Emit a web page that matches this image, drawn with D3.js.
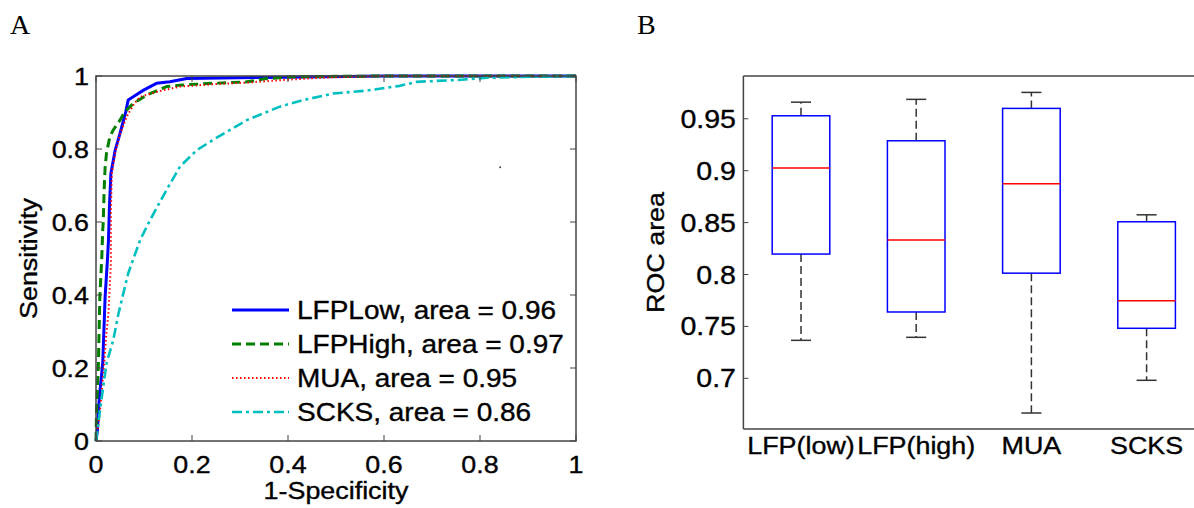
<!DOCTYPE html>
<html><head><meta charset="utf-8">
<script src="https://cdn.jsdelivr.net/npm/d3@7"></script>
<style>
html,body{margin:0;padding:0;background:#fff;}
text{font-family:"Liberation Sans",Arial,sans-serif;fill:#000;}
</style></head>
<body><svg id="c" width="1194" height="508"></svg>
<script>
// ---------- Panel A data (ROC curves) ----------
const rocTicks = [0, 0.2, 0.4, 0.6, 0.8, 1];
const rocTickLabels = ["0", "0.2", "0.4", "0.6", "0.8", "1"];
const seriesNames = ["LFPLow, area = 0.96", "LFPHigh, area = 0.97", "MUA, area = 0.95", "SCKS, area = 0.86"];

const lfpLowFpr = [0, 0.003, 0.007, 0.014, 0.019, 0.024, 0.026, 0.028, 0.031, 0.040, 0.050, 0.062, 0.067, 0.080, 0.100, 0.126, 0.154, 0.189, 0.35, 0.60, 1.0];
const lfpLowTpr = [0, 0.030, 0.121, 0.213, 0.395, 0.500, 0.551, 0.642, 0.733, 0.797, 0.843, 0.902, 0.934, 0.945, 0.962, 0.980, 0.984, 0.993, 0.996, 1.0, 1.0];

const lfpHighFpr = [0, 0.001, 0.005, 0.008, 0.012, 0.014, 0.015, 0.017, 0.019, 0.022, 0.029, 0.036, 0.050, 0.060, 0.078, 0.106, 0.147, 0.175, 0.244, 0.314, 0.356, 0.41, 0.60, 1.0];
const lfpHighTpr = [0, 0.077, 0.213, 0.395, 0.500, 0.578, 0.596, 0.688, 0.750, 0.790, 0.834, 0.852, 0.879, 0.902, 0.925, 0.948, 0.971, 0.975, 0.980, 0.984, 0.993, 0.998, 1.0, 1.0];

const muaFpr = [0, 0.008, 0.017, 0.022, 0.026, 0.031, 0.031, 0.033, 0.040, 0.050, 0.064, 0.080, 0.092, 0.130, 0.175, 0.250, 0.314, 0.400, 0.480, 0.60, 1.0];
const muaTpr = [0, 0.076, 0.213, 0.300, 0.350, 0.487, 0.624, 0.733, 0.790, 0.840, 0.889, 0.925, 0.943, 0.958, 0.971, 0.978, 0.982, 0.990, 0.996, 1.0, 1.0];

const scksFpr = [0, 0.005, 0.012, 0.022, 0.036, 0.047, 0.067, 0.092, 0.1125, 0.147, 0.175, 0.210, 0.244, 0.314, 0.383, 0.432, 0.494, 0.564, 0.633, 0.668, 0.751, 0.814, 0.910, 1.0];
const scksTpr = [0, 0.050, 0.120, 0.213, 0.277, 0.350, 0.459, 0.551, 0.605, 0.688, 0.752, 0.797, 0.825, 0.879, 0.916, 0.934, 0.952, 0.960, 0.973, 0.984, 0.989, 0.995, 0.998, 1.0];

const strayDot = [0.842, 0.75];

// ---------- Panel B data (box plot of ROC areas) ----------
const boxCategories = ["LFP(low)", "LFP(high)", "MUA", "SCKS"];
const boxLowerWhisker = [0.7366, 0.7395, 0.6666, 0.6981];
const boxQ1 = [0.8197, 0.7639, 0.8013, 0.7482];
const boxMedian = [0.9025, 0.8332, 0.8874, 0.7747];
const boxQ3 = [0.9529, 0.9288, 0.9600, 0.8508];
const boxUpperWhisker = [0.9660, 0.9687, 0.9754, 0.8575];
const boxTicks = [0.7, 0.75, 0.8, 0.85, 0.9, 0.95];
const boxTickLabels = ["0.7", "0.75", "0.8", "0.85", "0.9", "0.95"];

const svg = d3.select("#c");
const axisColor = "#444";
const SX = 1.12; // horizontal widening of the reference's sans text

function txt(g, x, y, s, size, anchor, rot) {
  const t = g.append("text")
    .attr("transform", `translate(${x},${y})` + (rot ? ` rotate(${rot})` : "") + ` scale(${SX},1)`)
    .attr("x", 0).attr("y", 0)
    .attr("text-anchor", anchor || "start")
    .attr("font-size", size)
    .attr("stroke", "#000").attr("stroke-width", 0.35)
    .text(s);
  return t;
}

// ================= Panel A =================
const ax = {l: 96, r: 576, t: 76, b: 441};
const xA = d3.scaleLinear().domain([0, 1]).range([ax.l, ax.r]);
const yA = d3.scaleLinear().domain([0, 1]).range([ax.b, ax.t]);
const gA = svg.append("g");

const series = [
  {fpr: lfpLowFpr, tpr: lfpLowTpr, color: "#0000ff", w: 3, dash: null},
  {fpr: lfpHighFpr, tpr: lfpHighTpr, color: "#007f00", w: 3, dash: "9,5"},
  {fpr: muaFpr, tpr: muaTpr, color: "#ff0000", w: 2, dash: "1.5,2.5"},
  {fpr: scksFpr, tpr: scksTpr, color: "#00bfbf", w: 2.6, dash: "10,4,3,4"}
];
const line = d3.line().x(d => xA(d[0])).y(d => yA(d[1]));
series.forEach(s => {
  const pts = s.fpr.map((f, i) => [f, s.tpr[i]]);
  gA.append("path").attr("d", line(pts)).attr("fill", "none")
    .attr("stroke", s.color).attr("stroke-width", s.w)
    .attr("stroke-dasharray", s.dash).attr("stroke-linejoin", "round");
});
gA.append("circle").attr("cx", xA(strayDot[0])).attr("cy", yA(strayDot[1])).attr("r", 0.9).attr("fill", "#333");

gA.append("rect").attr("x", ax.l).attr("y", ax.t).attr("width", ax.r - ax.l).attr("height", ax.b - ax.t)
  .attr("fill", "none").attr("stroke", axisColor).attr("stroke-width", 1.5);
const tl = 6;
rocTicks.forEach((t, i) => {
  gA.append("line").attr("x1", xA(t)).attr("x2", xA(t)).attr("y1", ax.b).attr("y2", ax.b - tl).attr("stroke", axisColor);
  gA.append("line").attr("x1", xA(t)).attr("x2", xA(t)).attr("y1", ax.t).attr("y2", ax.t + tl).attr("stroke", axisColor);
  gA.append("line").attr("y1", yA(t)).attr("y2", yA(t)).attr("x1", ax.l).attr("x2", ax.l + tl).attr("stroke", axisColor);
  gA.append("line").attr("y1", yA(t)).attr("y2", yA(t)).attr("x1", ax.r).attr("x2", ax.r - tl).attr("stroke", axisColor);
  txt(gA, xA(t), 473, rocTickLabels[i], 24, "middle");
  txt(gA, 89, yA(t) + 8.5, rocTickLabels[i], 24, "end");
});
txt(gA, (ax.l + ax.r) / 2, 499, "1-Specificity", 24, "middle");
txt(gA, 37, (ax.t + ax.b) / 2, "Sensitivity", 24, "middle", -90);

const legY = [310, 344, 378, 412];
series.forEach((s, i) => {
  gA.append("line").attr("x1", 232).attr("x2", 289).attr("y1", legY[i]).attr("y2", legY[i])
    .attr("stroke", s.color).attr("stroke-width", s.w).attr("stroke-dasharray", s.dash);
  txt(gA, 297, legY[i] + 9, seriesNames[i], 25, "start");
});

svg.append("text").attr("x", 10).attr("y", 34).attr("font-size", 28)
  .style("font-family", "'Liberation Serif','DejaVu Serif',serif").text("A");

// ================= Panel B =================
const bx = {l: 743.4, t: 76, b: 429};
const xB = d3.scaleLinear().domain([0.5, 4.5]).range([bx.l, bx.l + 4 * 115.2]);
const yB = d3.scaleLinear().domain([0.6512, 0.9912]).range([bx.b, bx.t]);
const gB = svg.append("g");

const halfW = 0.25, capHalf = 0.087;
boxCategories.forEach((c, i) => {
  const p = i + 1;
  gB.append("line").attr("x1", xB(p)).attr("x2", xB(p)).attr("y1", yB(boxQ3[i])).attr("y2", yB(boxUpperWhisker[i]))
    .attr("stroke", "#333").attr("stroke-width", 1.5).attr("stroke-dasharray", "8,4");
  gB.append("line").attr("x1", xB(p)).attr("x2", xB(p)).attr("y1", yB(boxQ1[i])).attr("y2", yB(boxLowerWhisker[i]))
    .attr("stroke", "#333").attr("stroke-width", 1.5).attr("stroke-dasharray", "8,4");
  [boxUpperWhisker[i], boxLowerWhisker[i]].forEach(v => {
    gB.append("line").attr("x1", xB(p - capHalf)).attr("x2", xB(p + capHalf)).attr("y1", yB(v)).attr("y2", yB(v))
      .attr("stroke", "#333").attr("stroke-width", 1.5);
  });
  gB.append("rect").attr("x", xB(p - halfW)).attr("y", yB(boxQ3[i]))
    .attr("width", xB(p + halfW) - xB(p - halfW)).attr("height", yB(boxQ1[i]) - yB(boxQ3[i]))
    .attr("fill", "none").attr("stroke", "#0000ff").attr("stroke-width", 1.5);
  gB.append("line").attr("x1", xB(p - halfW)).attr("x2", xB(p + halfW)).attr("y1", yB(boxMedian[i])).attr("y2", yB(boxMedian[i]))
    .attr("stroke", "#ff0000").attr("stroke-width", 1.5);
  txt(gB, xB(p), 454, c, 24, "middle");
});
gB.append("line").attr("x1", bx.l).attr("x2", bx.l).attr("y1", bx.t).attr("y2", bx.b).attr("stroke", axisColor).attr("stroke-width", 1.5);
gB.append("line").attr("x1", bx.l).attr("x2", xB(4.5)).attr("y1", bx.t).attr("y2", bx.t).attr("stroke", axisColor).attr("stroke-width", 1.5);
gB.append("line").attr("x1", bx.l).attr("x2", xB(4.5)).attr("y1", bx.b).attr("y2", bx.b).attr("stroke", axisColor).attr("stroke-width", 1.5);
boxTicks.forEach((t, i) => {
  gB.append("line").attr("x1", bx.l).attr("x2", bx.l + 5).attr("y1", yB(t)).attr("y2", yB(t)).attr("stroke", axisColor);
  txt(gB, 736, yB(t) + 9, boxTickLabels[i], 25.5, "end");
});
txt(gB, 664, (bx.t + bx.b) / 2, "ROC area", 24, "middle", -90);

svg.append("text").attr("x", 637).attr("y", 34).attr("font-size", 28)
  .style("font-family", "'Liberation Serif','DejaVu Serif',serif").text("B");
</script></body></html>
